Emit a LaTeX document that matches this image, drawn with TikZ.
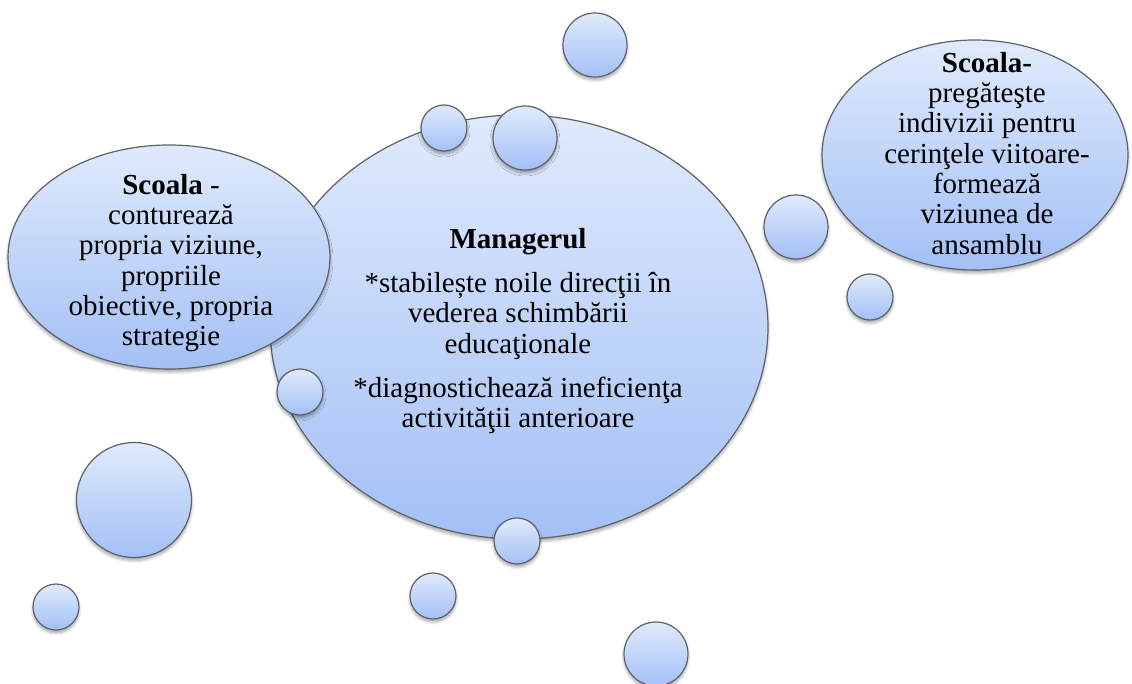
\documentclass[tikz,border=0pt]{standalone}
\usepackage{fontspec}
\setmainfont{Liberation Serif}
\usetikzlibrary{shapes.geometric,shadows.blur}
\definecolor{bubtop}{HTML}{E0EAFC}
\definecolor{bubbot}{HTML}{A3C0F6}
\definecolor{bubline}{HTML}{5E6268}
\tikzset{
  bub/.style={draw=bubline, line width=1.2pt, top color=bubtop, bottom color=bubbot,
    blur shadow={shadow xshift=0pt, shadow yshift=-3pt, shadow blur steps=6, shadow opacity=35, shadow blur radius=3pt},
    inner sep=0pt, outer sep=0pt},
  bigell/.style={bub, ellipse},
  dot/.style={bub, circle},
  txt/.style={align=center, font=\fontsize{29pt}{30.3pt}\selectfont, inner sep=0pt, text=black}
}
\begin{document}
\begin{tikzpicture}[x=1pt,y=-1pt]
\useasboundingbox (0,0) rectangle (1132,684);
% big ellipses
\node[bigell, minimum width=498pt, minimum height=424pt] (mgr) at (519,327) {};
\node[bigell, minimum width=322pt, minimum height=224pt] (sl) at (169,257) {};
\node[bigell, minimum width=306pt, minimum height=230pt] (sr) at (975,155) {};
% small bubbles
\node[dot, minimum size=64pt] (b1) at (595,45) {};
\node[dot, minimum size=46pt] (b2) at (444,128) {};
\node[dot, minimum size=64pt] (b3) at (525,138) {};
\node[dot, minimum size=64pt] (b4) at (796,227) {};
\node[dot, minimum size=46pt] (b5) at (870,297) {};
\node[dot, minimum size=46pt] (b6) at (300,392) {};
\node[dot, minimum size=46pt] (b7) at (517,541) {};
\node[dot, minimum size=115pt] (b8) at (134,500) {};
\node[dot, minimum size=46pt] (b9) at (56,607) {};
\node[dot, minimum size=46pt] (b10) at (433,596) {};
\node[dot, minimum size=64pt] (b11) at (656,654) {};
% texts
\node[txt, anchor=north] (tl) at (171,174) {\textbf{Scoala} -\\contureaz\u{a}\\propria viziune,\\propriile\\obiective, propria\\strategie};
\node[txt, anchor=north] (tm) at (518,228) {\textbf{Managerul}\\[14pt]*stabilește noile direcţii în\\vederea schimbării\\educaţionale\\[14pt]*diagnostichează ineficienţa\\activităţii anterioare};
\node[txt, anchor=north] (tr) at (987,52) {\textbf{Scoala-}\\pregăteşte\\indivizii pentru\\cerinţele viitoare-\\formează\\viziunea de\\ansamblu};
\end{tikzpicture}
\end{document}
